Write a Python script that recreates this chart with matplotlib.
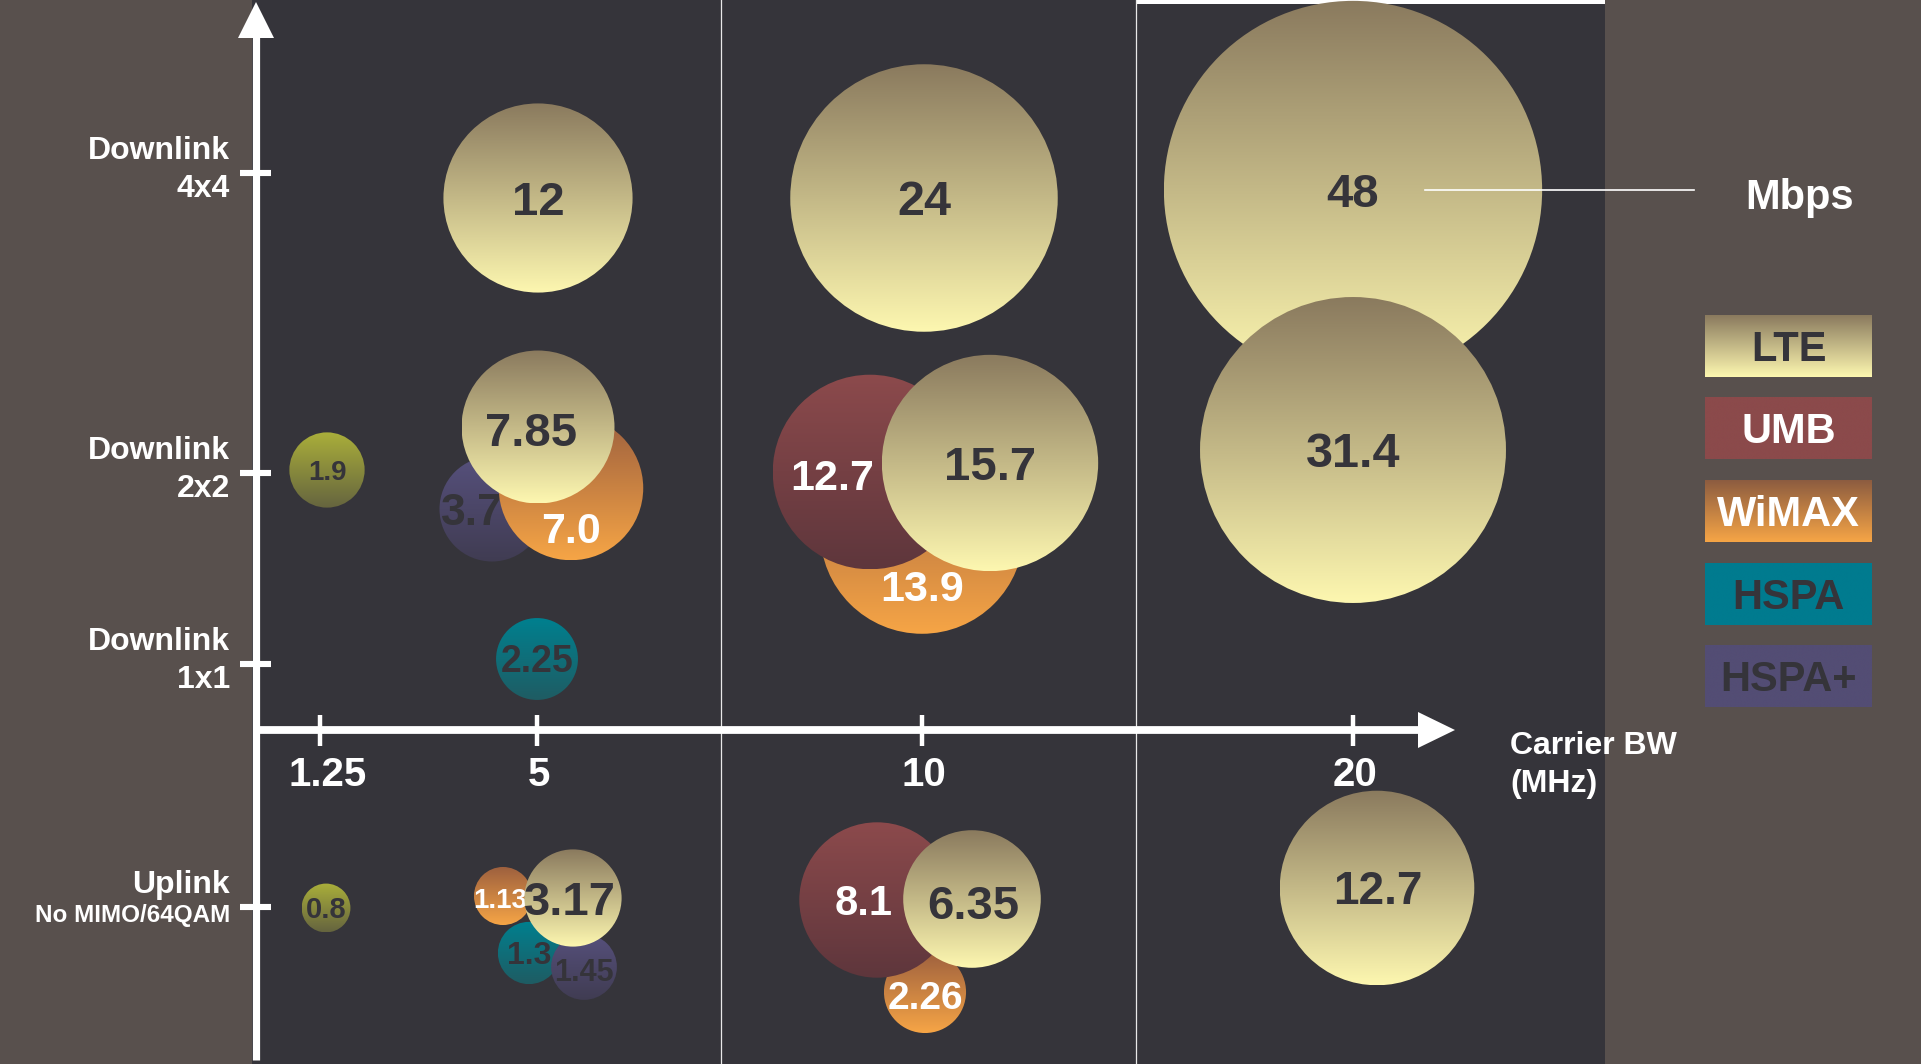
import numpy as np
import matplotlib
matplotlib.use("Agg")
import matplotlib.pyplot as plt
from matplotlib.patches import Circle, Rectangle, Polygon
from matplotlib.colors import LinearSegmentedColormap

plt.rcParams['font.family'] = ['Liberation Sans', 'DejaVu Sans']
plt.rcParams['font.weight'] = 'bold'

# ---------------- data ----------------
bandwidths = ['1.25', '5', '10', '20']
modes = [('Downlink', '4x4'), ('Downlink', '2x2'), ('Downlink', '1x1'), ('Uplink', 'No MIMO/64QAM')]
legend_techs = ['LTE', 'UMB', 'WiMAX', 'HSPA', 'HSPA+']
x_axis_title = ['Carrier BW', '(MHz)']
unit_label = 'Mbps'

bubble_tech = ['LTE', 'LTE', 'LTE', 'LTE',
               'Other', 'HSPA+', 'WiMAX', 'LTE', 'WiMAX', 'UMB', 'LTE',
               'HSPA',
               'Other', 'HSPA', 'HSPA+', 'WiMAX', 'LTE', 'WiMAX', 'UMB', 'LTE', 'LTE']
bubble_bw = ['5', '10', '20', '20',
             '1.25', '5', '5', '5', '10', '10', '10',
             '5',
             '1.25', '5', '5', '5', '5', '10', '10', '10', '20']
bubble_mode = [0, 0, 0, 1,
               1, 1, 1, 1, 1, 1, 1,
               2,
               3, 3, 3, 3, 3, 3, 3, 3, 3]
bubble_value = [12, 24, 48, 31.4,
                1.9, 3.7, 7.0, 7.85, 13.9, 12.7, 15.7,
                2.25,
                0.8, 1.3, 1.45, 1.13, 3.17, 2.26, 8.1, 6.35, 12.7]
bubble_text = ['12', '24', '48', '31.4',
               '1.9', '3.7', '7.0', '7.85', '13.9', '12.7', '15.7',
               '2.25',
               '0.8', '1.3', '1.45', '1.13', '3.17', '2.26', '8.1', '6.35', '12.7']

# ---------------- layout / styles ----------------
W, H = 1921, 1064
bw_pos = {'1.25': 320, '5': 537, '10': 922, '20': 1353}
mode_pos = [173, 473, 664, 907]
# bubble centre offsets from (bandwidth tick, mode tick)
bubble_off = [(1, 25), (2, 25), (0, 17), (0, -23),
              (7, -3), (-45, 36), (34, 15), (1, -46), (0, 59), (-52, -1), (68, -10),
              (0, -5),
              (6, 1), (-8, 46), (47, 60), (-34, -11), (36, -9), (3, 85), (-45, -7), (50, -8), (24, -19)]
label_off = [(0, 0), (0, 0), (0, 0), (0, 0),
             (0, 0), (-20, 0), (0, 40), (-7, 2), (0, 54), (-38, 3), (0, 0),
             (0, 0),
             (0, 0), (0, 0), (0, 3), (-3, 2), (-3, 0), (0, 3), (-13, 0), (1, 3), (1, 0)]
label_size = [34, 35, 34, 35,
              20, 32, 31, 34, 31, 31, 34,
              27,
              21, 23, 22, 20, 34, 28, 30, 34, 33]
K = 27.3  # px per sqrt(Mbps)

DARK = '#35343A'
SIDE = '#58504D'
tech_colors = {
    'LTE':   ('#8A7A5E', '#FDF7B0', DARK),
    'UMB':   ('#8C4A4C', '#5E363C', 'white'),
    'WiMAX': ('#9C5F3E', '#F6A546', 'white'),
    'HSPA':  ('#00808F', '#1F5C63', DARK),
    'HSPA+': ('#56507C', '#403C52', DARK),
    'Other': ('#AAAF3A', '#65643F', DARK),
}
legend_grad = {
    'LTE':   ('#8A7A5E', '#FDF7B0'),
    'UMB':   ('#8B4A4B', '#8B4A4B'),
    'WiMAX': ('#8C5C40', '#F6A546'),
    'HSPA':  ('#007B8F', '#007B8F'),
    'HSPA+': ('#534D74', '#534D74'),
}

PX = 100 / 72.0  # px per pt


def put_text(ax, x, yc, s, size, color, ha='center', z=50):
    # place text so that cap height is centred on yc (y axis inverted)
    ax.text(x, yc + 0.716 * size * PX / 2, s, fontsize=size, color=color,
            ha=ha, va='baseline', fontweight='bold', zorder=z)


def grad_fill(ax, patch, x0, x1, y0, y1, c_top, c_bot, z):
    cmap = LinearSegmentedColormap.from_list('g', [c_top, c_bot])
    grad = np.linspace(0, 1, 256).reshape(-1, 1)
    im = ax.imshow(grad, cmap=cmap, extent=(x0, x1, y1, y0), origin='upper',
                   aspect='auto', interpolation='bilinear', zorder=z)
    im.set_clip_path(patch)
    return im


fig = plt.figure(figsize=(W / 100, H / 100), dpi=100)
fig.patch.set_facecolor(DARK)
ax = fig.add_axes([0, 0, 1, 1])
ax.set_xlim(0, W)
ax.set_ylim(H, 0)
ax.axis('off')

# background panels
ax.add_patch(Rectangle((0, 0), 252, H, facecolor=SIDE, edgecolor='none', zorder=0))
ax.add_patch(Rectangle((252, 0), 1605 - 252, H, facecolor=DARK, edgecolor='none', zorder=0))
ax.add_patch(Rectangle((1605, 0), W - 1605, H, facecolor=SIDE, edgecolor='none', zorder=0))
ax.add_patch(Rectangle((1136, 0), 1605 - 1136, 4, facecolor='white', edgecolor='none', zorder=1))
for sx in (721, 1136):
    ax.plot([sx, sx], [0, H], color='#E8E8E8', lw=0.9, zorder=1)

# bubbles
for i, (tech, bw, m, v, txt) in enumerate(zip(bubble_tech, bubble_bw, bubble_mode,
                                               bubble_value, bubble_text)):
    cx = bw_pos[bw] + bubble_off[i][0]
    cy = mode_pos[m] + bubble_off[i][1]
    r = K * np.sqrt(v)
    ctop, cbot, tcol = tech_colors[tech]
    z = 10 + 2 * i
    circ = Circle((cx, cy), r, transform=ax.transData, facecolor='none', edgecolor='none')
    grad_fill(ax, circ, cx - r, cx + r, cy - r, cy + r, ctop, cbot, z)
    put_text(ax, cx + label_off[i][0], cy + label_off[i][1], txt, label_size[i], tcol, z=z + 1)

# axes
AX_X, AX_Y = 256, 730
ax.plot([AX_X, AX_X], [1060, 36], color='white', lw=5.2, solid_capstyle='butt', zorder=80)
ax.add_patch(Polygon([(AX_X, 2), (AX_X - 18, 38), (AX_X + 18, 38)], closed=True,
                     facecolor='white', edgecolor='none', zorder=80))
ax.plot([AX_X - 3, 1420], [AX_Y, AX_Y], color='white', lw=5.6, solid_capstyle='butt', zorder=80)
ax.add_patch(Polygon([(1455, AX_Y), (1418, AX_Y - 18), (1418, AX_Y + 18)], closed=True,
                     facecolor='white', edgecolor='none', zorder=80))

# x ticks & labels
for bw in bandwidths:
    x = bw_pos[bw]
    ax.plot([x, x], [715, 746], color='white', lw=3.2, solid_capstyle='butt', zorder=81)
    put_text(ax, x + (8 if bw == '1.25' else 2), 772, bw, 29, 'white', z=81)

# y ticks & labels
for m, (l1, l2) in enumerate(modes):
    y = mode_pos[m]
    ax.plot([240, 271], [y, y], color='white', lw=4.4, solid_capstyle='butt', zorder=81)
    put_text(ax, 230, y - 25, l1, 23, 'white', ha='right', z=81)
    if m == 3:
        put_text(ax, 230, y + 6, l2, 17.5, 'white', ha='right', z=81)
    else:
        put_text(ax, 230, y + 13, l2, 23, 'white', ha='right', z=81)

# x axis title
put_text(ax, 1510, 743, x_axis_title[0], 23, 'white', ha='left', z=81)
put_text(ax, 1510, 781, x_axis_title[1], 23, 'white', ha='left', z=81)

# unit callout
ax.plot([1425, 1694], [190, 190], color='white', lw=1.2, zorder=90)
put_text(ax, 1800, 194, unit_label, 30, 'white', z=90)

# legend
leg_y = [346, 428, 511, 594, 676]
for tech, yc in zip(legend_techs, leg_y):
    x0, x1 = 1705, 1872
    y0, y1 = yc - 31, yc + 31
    rect = Rectangle((x0, y0), x1 - x0, y1 - y0, transform=ax.transData,
                     facecolor='none', edgecolor='none')
    ct, cb = legend_grad[tech]
    grad_fill(ax, rect, x0, x1, y0, y1, ct, cb, 90)
    put_text(ax, (x0 + x1) / 2, yc, tech, 30, tech_colors[tech][2], z=91)

ax.set_xlim(0, W)
ax.set_ylim(H, 0)
fig.savefig('out.png', dpi=100, facecolor=fig.get_facecolor())
